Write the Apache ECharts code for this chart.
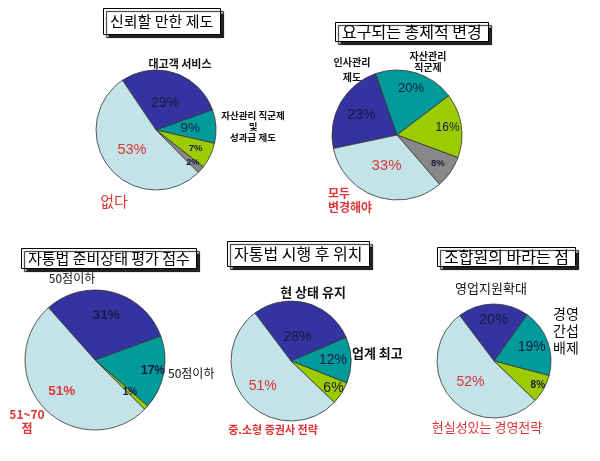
<!DOCTYPE html>
<html>
<head>
<meta charset="utf-8">
<script src="https://cdn.jsdelivr.net/npm/echarts@6/dist/echarts.min.js"></script>
<style>
  html, body { margin: 0; padding: 0; background: #fff; }
  #main { width: 600px; height: 461px; }
</style>
</head>
<body>
<div id="main"></div>
<script>
// 차트 제목
var titles = ['신뢰할 만한 제도', '요구되는 총체적 변경', '자통법 준비상태 평가 점수', '자통법 시행 후 위치', '조합원의 바라는 점'];

// 신뢰할 만한 제도
var names1 = ['대고객 서비스', '자산관리 직군제\n및\n성과급 제도', '', '', '없다'];
var values1 = [29, 9, 7, 2, 53];
// 요구되는 총체적 변경
var names2 = ['인사관리\n제도', '자산관리\n직군제', '', '', '모두\n변경해야'];
var values2 = [23, 20, 16, 8, 33];
// 자통법 준비상태 평가 점수
var names3 = ['50점이하', '50점이하', '', '51~70\n점'];
var values3 = [31, 17, 1, 51];
// 자통법 시행 후 위치
var names4 = ['현 상태 유지', '업계 최고', '', '중.소형 증권사 전략'];
var values4 = [28, 12, 6, 51];
// 조합원의 바라는 점
var names5 = ['영업지원확대', '경영\n간섭\n배제', '', '현실성있는 경영전략'];
var values5 = [20, 19, 8, 52];

var BLUE = '#3434a0', TEAL = '#009a9a', LIME = '#9ccc00', GRAY = '#888888', LIGHT = '#c2e4e8';
var RED = '#e03434', INK = '#1a1a40';
var KR = '"Noto Sans CJK KR"';
var colors5 = [BLUE, TEAL, LIME, GRAY, LIGHT];
var colors4 = [BLUE, TEAL, LIME, LIGHT];

// 퍼센트 글자 위치(반지름 비율)와 크기
var ratio1 = [0.43, 0.52, 0.68, 0.77, 0.47], size1 = [14, 13.5, 9.5, 9, 14.5];
var ratio2 = [0.58, 0.70, 0.74, 0.72, 0.46], size2 = [14, 13, 12, 9.5, 15];
var ratio3 = [0.61, 0.80, 0.64, 0.61],       size3 = [13.5, 12, 10, 13.5];
var ratio4 = [0.37, 0.65, 0.79, 0.58],       size4 = [14, 14, 14, 14];
var ratio5 = [0.67, 0.65, 0.83, 0.50],       size5 = [14.5, 14, 10, 14];

var myChart = echarts.init(document.getElementById('main'));

// 파이 하나 + 퍼센트 글자용 투명 링
function pieSeries(center, r, startAngle, names, values, colors, ratios, sizes, bold) {
  var data = values.map(function (v, i) {
    return { name: names[i], value: v, itemStyle: { color: colors[i] } };
  });
  var list = [{
    type: 'pie',
    center: center,
    radius: r,
    startAngle: startAngle,
    silent: true,
    itemStyle: { borderColor: '#333', borderWidth: 0.8 },
    label: { show: false },
    labelLine: { show: false },
    data: data
  }];
  values.forEach(function (v, k) {
    var red = colors[k] === LIGHT;
    list.push({
      type: 'pie',
      center: center,
      radius: [r * ratios[k] - 0.5, r * ratios[k] + 0.5],
      startAngle: startAngle,
      silent: true,
      avoidLabelOverlap: false,
      itemStyle: { color: 'rgba(0,0,0,0)' },
      labelLine: { show: false },
      label: { show: false },
      data: values.map(function (v2, i) {
        return {
          name: names[i],
          value: v2,
          label: i === k ? {
            show: true,
            position: 'inside',
            fontFamily: '"Liberation Sans", Arial',
            fontSize: sizes[i],
            fontWeight: (bold || sizes[i] < 11) ? 'bold' : 'normal',
            color: red ? RED : INK,
            formatter: v2 + '%'
          } : { show: false }
        };
      })
    });
  });
  return list;
}

function title(text, left, top, size, pad) {
  return {
    text: text,
    left: left,
    top: top,
    padding: [pad, 7, pad, 7],
    backgroundColor: '#fff',
    borderColor: '#000',
    borderWidth: 1,
    shadowColor: '#222',
    shadowBlur: 1,
    shadowOffsetX: 3,
    shadowOffsetY: 3,
    textStyle: { fontFamily: KR, fontSize: size, fontWeight: 'normal', color: '#000' }
  };
}

// 바깥 이름표
function tag(text, x, y, size, opts) {
  opts = opts || {};
  return {
    type: 'text',
    x: x,
    y: y,
    silent: true,
    style: {
      text: text,
      fill: opts.red ? RED : '#111',
      font: (opts.bold ? 'bold ' : '') + size + 'px ' + KR,
      align: opts.align || 'center',
      verticalAlign: 'middle',
      lineHeight: opts.lh || size + 2
    }
  };
}

var option = {
  animation: false,
  title: [
    title(titles[0], 103, 8, 15, 6),
    title(titles[1], 335, 22, 16, 2),
    title(titles[2], 21, 248, 15, 3),
    title(titles[3], 227, 241, 16, 5),
    title(titles[4], 437, 247, 16, 2)
  ],
  series: [].concat(
    pieSeries([156, 130], 60, 124, names1, values1, colors5, ratio1, size1),
    pieSeries([397, 135], 65, 192, names2, values2, colors5, ratio2, size2),
    pieSeries([95, 360], 70, 131.6, names3, values3, colors4, ratio3, size3, true),
    pieSeries([291, 361], 60, 127, names4, values4, colors4, ratio4, size4),
    pieSeries([494, 361], 57, 127, names5, values5, colors4, ratio5, size5)
  ),
  graphic: [
    tag(names1[0], 180, 64, 11, { bold: true }),
    tag(names1[1], 253, 126, 9.5, { bold: true, lh: 11 }),
    tag(names1[4], 114, 201, 15, { red: true }),
    tag(names2[0], 352, 70, 10, { bold: true, lh: 15 }),
    tag(names2[1], 428, 62, 10, { bold: true, lh: 11 }),
    tag(names2[4], 328, 200, 12, { red: true, bold: true, align: 'left', lh: 14 }),
    tag(names3[0], 72, 278, 12),
    tag(names3[1], 168, 373, 12, { align: 'left' }),
    tag(names3[3], 27, 421, 12, { red: true, bold: true, lh: 14 }),
    tag(names4[0], 313, 292, 13, { bold: true }),
    tag(names4[1], 352, 353, 13, { bold: true, align: 'left' }),
    tag(names4[3], 273, 430, 11, { red: true, bold: true }),
    tag(names5[0], 491, 288, 13),
    tag(names5[1], 566, 331, 14, { lh: 17 }),
    tag(names5[3], 487, 427, 13, { red: true })
  ]
};

myChart.setOption(option);
</script>
</body>
</html>
